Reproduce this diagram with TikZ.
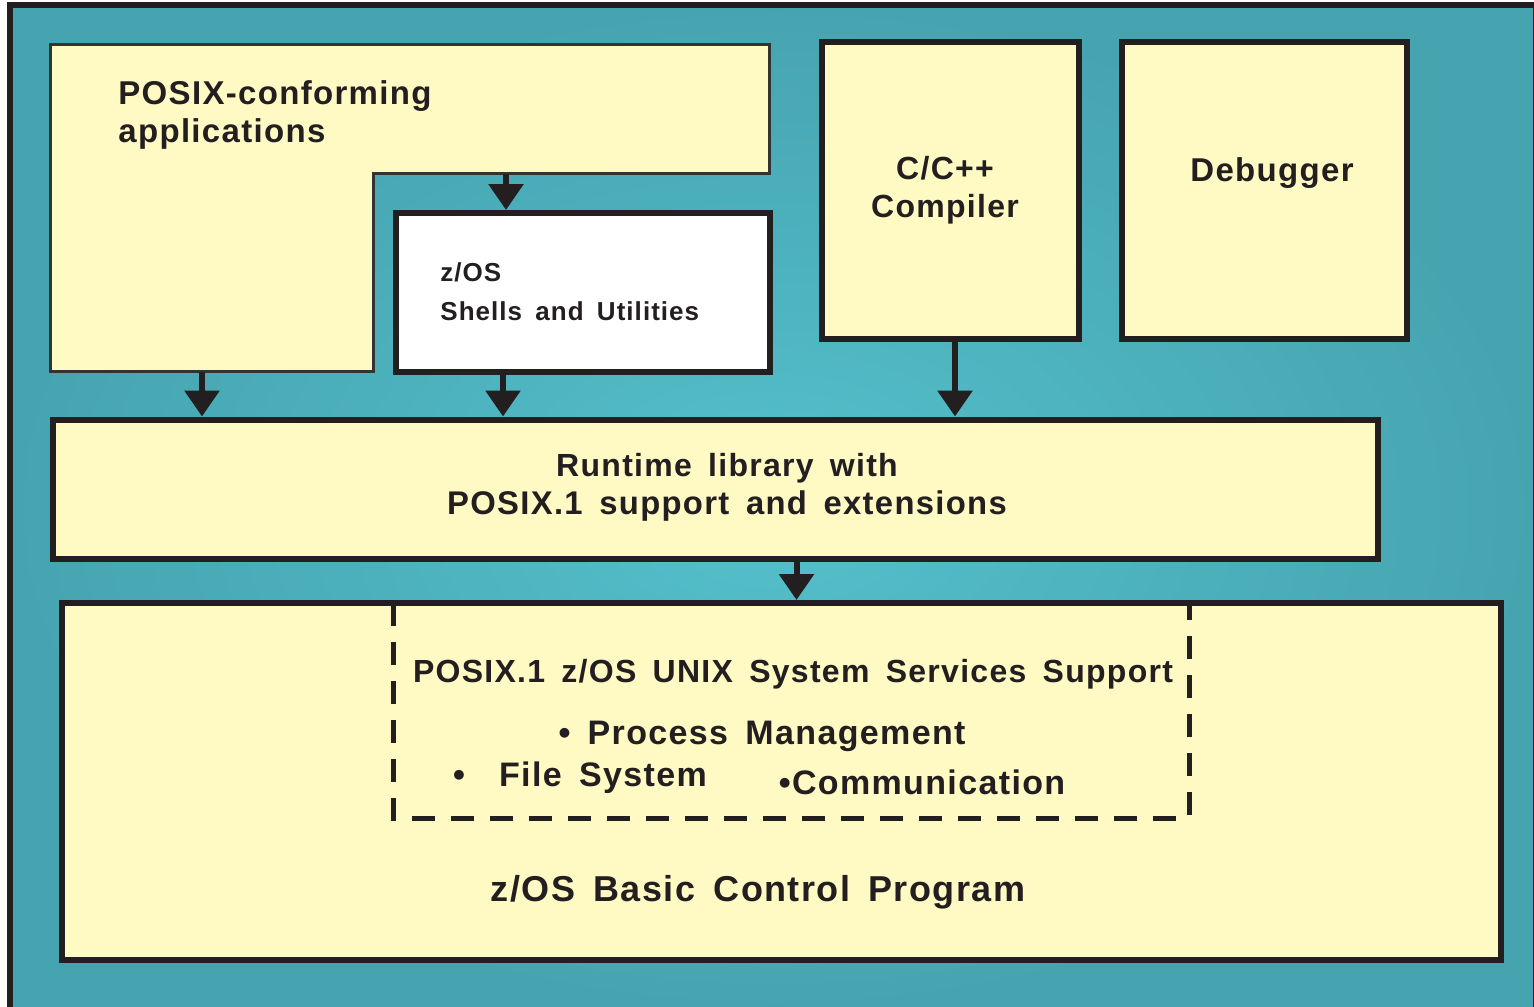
\documentclass[tikz,border=0pt]{standalone}
\usepackage{fontspec}
\setmainfont{Liberation Sans}
\newfontfamily\lab[LetterSpace=4,WordSpace=1.6]{Liberation Sans}
\usetikzlibrary{arrows.meta}
\definecolor{teallight}{RGB}{84,192,203}
\definecolor{tealdark}{RGB}{70,164,176}
\definecolor{paleyellow}{RGB}{255,249,196}
\definecolor{ink}{RGB}{35,31,32}
\begin{document}
\begin{tikzpicture}[x=0.5pt,y=-0.5pt,
  box/.style={draw=ink,line width=3pt,fill=paleyellow,rectangle,inner sep=0pt},
  arr/.style={draw=ink,line width=3pt,-{Triangle[width=17pt,length=13pt]}},
  lbl/.style={text=ink,font=\lab\bfseries\fontsize{16}{19}\selectfont,inner sep=0pt},
  mid/.style={font=\lab\bfseries\fontsize{16.5}{19}\selectfont},
  big/.style={font=\lab\bfseries\fontsize{17}{20}\selectfont},
  huge/.style={font=\lab\bfseries\fontsize{18}{20}\selectfont},
  small/.style={font=\lab\bfseries\fontsize{13}{19.5}\selectfont}]
\useasboundingbox (0,0) rectangle (1534,1006);
\shade[inner color=teallight,outer color=tealdark] (10,5) rectangle (1536,1010);
\draw[ink,line width=3pt] (10,1010) -- (10,5.5) -- (1536,5.5) -- (1536,1010);
% L-shaped POSIX applications box
\draw[draw=black!80,line width=1.5pt,fill=paleyellow] (50.5,44.5) -- (769.5,44.5) -- (769.5,173.5) -- (373,173.5) -- (373,371.5) -- (50.5,371.5) -- cycle;
\coordinate (Lnotch) at (506,173.5);
\coordinate (Lbot) at (202,371.5);
% boxes
\node[box,fill=white,minimum width=187pt,minimum height=79.5pt] (shells) at (583,292.5) {};
\node[box,minimum width=128.5pt,minimum height=148.5pt] (cmp) at (950.5,190.5) {};
\node[box,minimum width=142.5pt,minimum height=148.5pt] (dbg) at (1264.5,190.5) {};
\node[box,minimum width=662.5pt,minimum height=69.75pt] (rt) at (715.5,489.25) {};
\node[box,minimum width=719.5pt,minimum height=178.5pt] (bcp) at (781.5,781.5) {};
% dashed POSIX.1 support region
\draw[ink,line width=2.5pt,dash pattern=on 11.5pt off 8pt] (393,603) -- (393,818) -- (1189,818) -- (1189,603);
% arrows
\draw[arr] (Lnotch) -- (Lnotch |- shells.north);
\draw[arr] (Lbot) -- (Lbot |- rt.north);
\draw[arr] ([xshift=-40pt]shells.south) -- ([xshift=-40pt]shells.south |- rt.north);
\draw[arr] ([xshift=2.25pt]cmp.south) -- ([xshift=2.25pt]cmp.south |- rt.north);
\draw[arr] ([xshift=40.5pt]rt.south) -- ([xshift=40.5pt]rt.south |- bcp.north);
% texts
\node[lbl,mid,anchor=west,align=left] (posixapps) at (118,115) {POSIX-conforming\\applications};
\node[lbl,small,anchor=west,align=left] (shellstxt) at (440,292) {z/OS\\Shells and Utilities};
\node[lbl,align=center] (cmptxt) at (945,190) {C/C++\\Compiler};
\node[lbl,mid] (dbgtxt) at (1272,173) {Debugger};
\node[lbl,align=center] (rttxt) at (727,487) {Runtime library with\\{\fontsize{16.4}{19}\selectfont POSIX.1 support and extensions}};
\node[lbl] (posixss) at (793,674) {POSIX.1 z/OS UNIX System Services Support};
\node[lbl,big] (pm) at (762,736) {\textbullet\ Process Management};
\node[lbl,big] (fs) at (580,778) {\textbullet\quad File System};
\node[lbl,big] (comm) at (922,782) {\textbullet Communication};
\node[lbl,huge] (bcptxt) at (758,892) {z/OS Basic Control Program};
\end{tikzpicture}
\end{document}
